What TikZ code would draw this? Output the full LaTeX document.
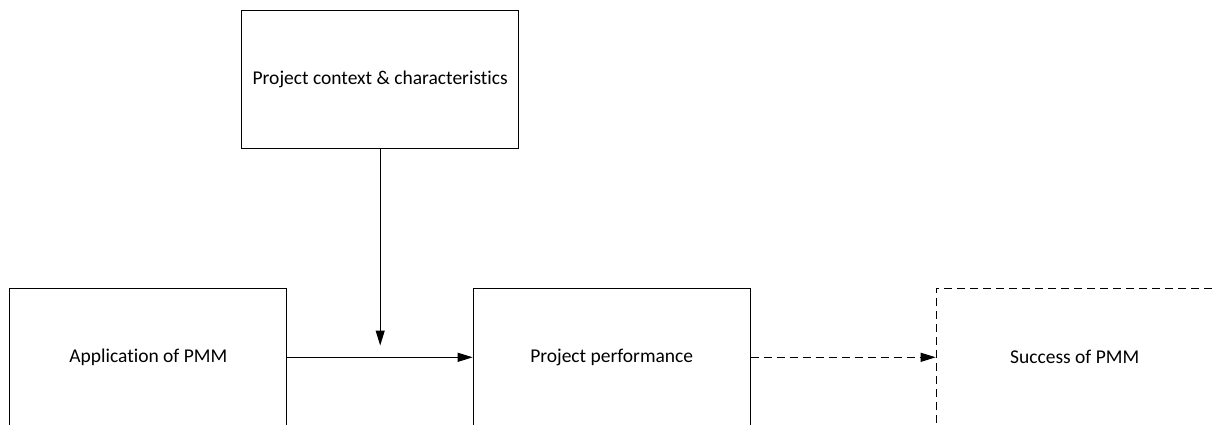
\documentclass[tikz,border=0pt]{standalone}
\usepackage{fontspec}
\setmainfont{Carlito}[Ligatures=NoCommon]
\usetikzlibrary{arrows.meta}
\begin{document}
\begin{tikzpicture}[x=1pt,y=-1pt,
  box/.style={draw,line width=1pt,minimum width=277pt,minimum height=138pt,
    inner sep=0pt,font=\fontsize{19.5}{23}\selectfont},
  dashbox/.style={box,dash pattern=on 8pt off 5pt},
  link/.style={line width=1pt,-{Triangle[length=15pt,width=9pt]}},
  dashlink/.style={link,dash pattern=on 8pt off 5pt}]
\useasboundingbox (0,0) rectangle (1212,425);
\clip (0,0) rectangle (1212,425);
\node[box] (ctx) at (380.2,79.3) {Project context \& characteristics};
\node[box] (app) at (148.3,357.3) {Application of PMM};
\node[box] (perf) at (611.7,357.3) {Project performance};
\node[dashbox] (succ) at (1074.7,357.3) {Success of PMM};
\coordinate (mod) at (380.2,345.5);
\draw[link] (ctx.south) -- (mod);
\draw[link] (app.east) -- (perf.west);
\draw[dashlink] (perf.east) -- (succ.west);
\end{tikzpicture}
\end{document}
